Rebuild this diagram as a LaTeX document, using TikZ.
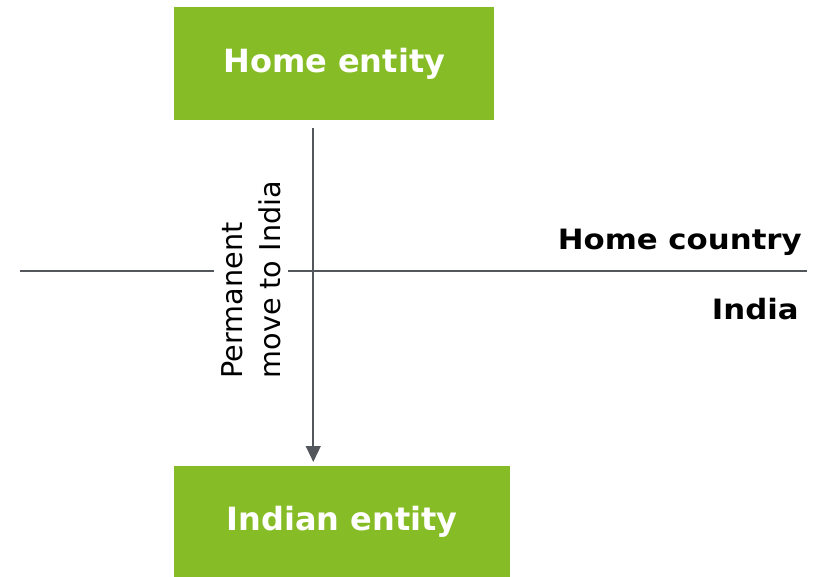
\documentclass[tikz,border=0pt]{standalone}
\usepackage{fontspec}
\setmainfont{DejaVu Sans}
\newfontfamily\lblfont[FakeStretch=1.1]{DejaVu Sans}
\usetikzlibrary{arrows.meta}
\definecolor{entGreen}{HTML}{86BC25}
\definecolor{lineGray}{HTML}{53565A}

\begin{document}
\begin{tikzpicture}[x=0.75pt, y=-0.75pt,
	entity/.style={fill=entGreen, text=white, inner sep=0pt, anchor=north west,
		font=\fontsize{24}{28}\selectfont\bfseries},
	country/.style={anchor=base east, inner sep=0pt,
		font=\lblfont\fontsize{21}{25}\selectfont\bfseries},
	divider/.style={draw=lineGray, line width=1.5pt},
	flow/.style={draw=lineGray, line width=1.7pt, -{Triangle[width=11pt,length=12pt]}}]
		%%%%% START %%%%%
		
		\useasboundingbox (0,0) rectangle (817,577);
		
		\node[entity, minimum width=240pt, minimum height=84.75pt] (home) at (174,7) {Home entity};
		\node[entity, minimum width=252pt, minimum height=83.25pt] (indian) at (174,466) {Indian entity};
		
		\coordinate (divL) at (20,271);
		\coordinate (divR) at (807,271);
		\draw[divider] (divL) -- (divR);
		
		\node[country] (homeLbl) at (802,250) {Home country};
		\node[country] (indiaLbl) at (799,319) {India};
		
		\node[rotate=90, anchor=west, fill=white, inner sep=5.5pt, align=left,
			font=\fontsize{21.5}{28.5}\selectfont] (moveLbl) at (251,386) {Permanent\\move to India};
		
		\coordinate (arrowTop) at ([shift={(-21,7)}]home.south);
		\draw[flow, shorten >=3pt] (arrowTop) -- (arrowTop |- indian.north);
		
		%%%%% END %%%%%
\end{tikzpicture}
\end{document}
